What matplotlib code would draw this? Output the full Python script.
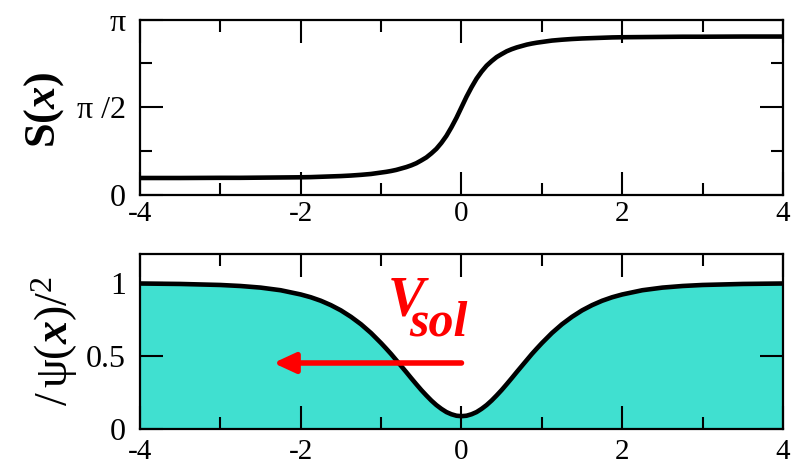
import numpy as np
import matplotlib
matplotlib.use('Agg')
import matplotlib.pyplot as plt
from matplotlib.patches import ArrowStyle

plt.rcParams['font.family'] = ['Liberation Serif', 'DejaVu Serif']
plt.rcParams['mathtext.fontset'] = 'custom'
plt.rcParams['mathtext.rm'] = 'Liberation Serif'
plt.rcParams['mathtext.it'] = 'Liberation Serif:italic'
plt.rcParams['mathtext.bf'] = 'Liberation Serif:bold'
plt.rcParams['mathtext.bfit'] = 'Liberation Serif:italic:bold'
plt.rcParams['axes.unicode_minus'] = False

# half profile, x >= 0 (the soliton is symmetric about x = 0)
x_half = [0.0, 0.0625, 0.125, 0.1875, 0.25, 0.3125, 0.375, 0.4375, 0.5, 0.5625,
          0.625, 0.6875, 0.75, 0.8125, 0.875, 0.9375, 1.0, 1.125, 1.25, 1.375,
          1.5, 1.625, 1.75, 1.875, 2.0, 2.25, 2.5, 2.75, 3.0, 3.5, 4.0]
# density |psi|^2
dens_half = [0.090, 0.093, 0.103, 0.118, 0.140, 0.166, 0.197, 0.232, 0.269, 0.309,
             0.350, 0.392, 0.433, 0.474, 0.515, 0.553, 0.590, 0.659, 0.719, 0.770,
             0.814, 0.850, 0.880, 0.904, 0.923, 0.952, 0.970, 0.981, 0.988, 0.995, 0.998]
# phase S(x) in units of pi, right half (left half mirrors around 1/2)
phase_half = [0.500, 0.560, 0.614, 0.663, 0.703, 0.737, 0.763, 0.786, 0.803, 0.819,
              0.831, 0.841, 0.849, 0.857, 0.863, 0.868, 0.872, 0.880, 0.885, 0.889,
              0.892, 0.894, 0.896, 0.898, 0.899, 0.900, 0.901, 0.902, 0.902, 0.903, 0.903]

x = np.concatenate([-np.array(x_half[:0:-1]), x_half])
dens = np.concatenate([dens_half[:0:-1], dens_half])
phase = np.concatenate([1 - np.array(phase_half[:0:-1]), phase_half])

arrow_y = 0.454
arrow_from = 0.0
arrow_to = -2.34

fig = plt.figure(figsize=(7.98, 4.67), dpi=100)
ax1 = fig.add_axes([0.1754, 0.5824, 0.8058, 0.3758])
ax2 = fig.add_axes([0.1754, 0.0807, 0.8058, 0.3754])

for ax in (ax1, ax2):
    for sp in ax.spines.values():
        sp.set_linewidth(1.6)
    ax.set_xlim(-4, 4)
    ax.set_xticks([-4, -2, 0, 2, 4])
    ax.set_xticks([-3, -1, 1, 3], minor=True)
    ax.tick_params(which='both', direction='in', top=True, right=True, width=1.5)
    ax.tick_params(which='major', length=16.5)
    ax.tick_params(which='minor', length=8.6)
    ax.tick_params(axis='x', labelsize=21)
    ax.tick_params(axis='y', labelsize=23, pad=10)

# phase
ax1.plot(x, phase * np.pi, color='black', lw=3.3, solid_joinstyle='round')
ax1.set_ylim(0, np.pi)
ax1.set_yticks([0, np.pi / 2, np.pi])
ax1.set_yticklabels(['0', 'π /2', 'π'])
ax1.set_yticks([np.pi / 4, 3 * np.pi / 4], minor=True)
ax1.tick_params(axis='x', pad=4)

# density
ax2.fill_between(x, 0, dens, color='#40e0d0', lw=0)
ax2.plot(x, dens, color='black', lw=3.3, solid_joinstyle='round')
ax2.set_ylim(0, 1.2)
ax2.set_yticks([0, 0.5, 1])
ax2.set_yticklabels(['0', '0.5', '1'])
ax2.tick_params(axis='x', pad=7)

ax2.annotate('', xy=(arrow_to, arrow_y), xytext=(arrow_from, arrow_y),
             arrowprops=dict(arrowstyle=ArrowStyle('-|>', head_length=13, head_width=6),
                             mutation_scale=1, color='red', lw=4, shrinkA=0, shrinkB=0))
ax2.text(-0.915, 0.78, 'V', color='red', fontsize=40, fontweight='bold',
         style='italic', va='baseline', ha='left')
ax2.text(-0.65, 0.643, 'sol', color='red', fontsize=36, fontweight='bold',
         style='italic', va='baseline', ha='left')

fig.text(0.0551, 0.7645, r'$\mathbf{S(}\mathbfit{x}\mathbf{)}$', rotation=90,
         ha='center', va='center', fontsize=32)
fig.text(0.0689, 0.2698, r'$/\,\mathrm{ψ}(\mathbfit{x})/^{2}$', rotation=90,
         ha='center', va='center', fontsize=33)

fig.savefig('out.png', dpi=100)
